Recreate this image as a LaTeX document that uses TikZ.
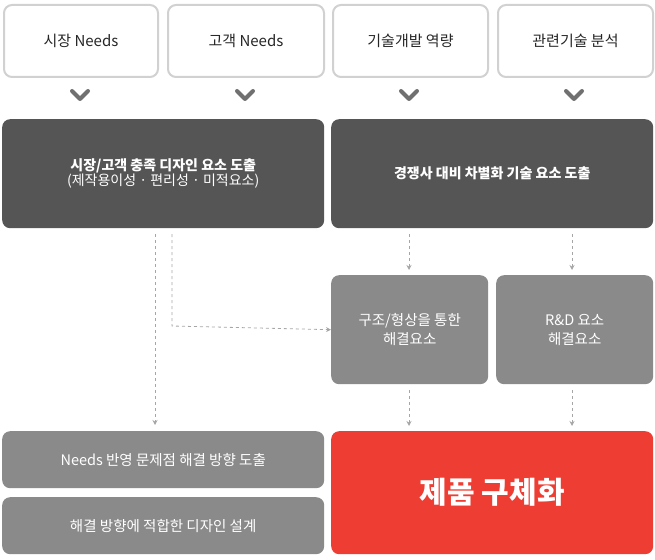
\documentclass[tikz,border=0pt]{standalone}
\usepackage{fontspec}
\setmainfont{Noto Sans CJK KR}
\usetikzlibrary{arrows.meta}
\definecolor{dark}{HTML}{555555}
\definecolor{mid}{HTML}{8A8A8A}
\definecolor{redb}{HTML}{EE3D33}
\definecolor{chev}{HTML}{707070}
\begin{document}
\begin{tikzpicture}[x=1pt,y=-1pt,
 box/.style={rounded corners=8pt,inner sep=0pt,align=center,anchor=north west},
 top/.style={box,draw=black!18,line width=2pt,fill=white,text=black!85,font=\fontsize{15}{18}\selectfont},
 dk/.style={box,fill=dark,text=white,font=\bfseries\fontsize{14}{18}\selectfont},
 md/.style={box,fill=mid,text=white,font=\fontsize{14.5}{19}\selectfont},
 dsh/.style={draw=black!35,dash pattern=on 3pt off 3pt,line width=0.8pt,-{Stealth[length=5pt,width=5pt]}},
 chv/.style={draw=chev,line width=4pt,line cap=round,line join=round}]
\useasboundingbox (0,0) rectangle (655,559);
\node[top,minimum width=154,minimum height=72] (t1) at (3,4) {시장 Needs};
\node[top,minimum width=156,minimum height=72] (t2) at (167,4) {고객 Needs};
\node[top,minimum width=155,minimum height=72] (t3) at (332,4) {기술개발 역량};
\node[top,minimum width=155,minimum height=72] (t4) at (497,4) {관련기술 분석};
\foreach \x in {80,245,409,574}{\draw[chv] (\x-8,91) -- (\x,99) -- (\x+8,91);}
\node[dk,minimum width=322,minimum height=109] (d1) at (2,119) {시장/고객 충족 디자인 요소 도출\\[-3pt]{\mdseries(제작용이성 · 편리성 · 미적요소)}};
\node[dk,minimum width=322,minimum height=109] (d2) at (331,119) {경쟁사 대비 차별화 기술 요소 도출};
\node[md,minimum width=157,minimum height=109] (g1) at (331,275) {구조/형상을 통한\\해결요소};
\node[md,minimum width=157,minimum height=109] (g2) at (496,275) {R\&D 요소\\해결요소};
\node[md,minimum width=322,minimum height=57] (b1) at (2,431) {Needs 반영 문제점 해결 방향 도출};
\node[md,minimum width=322,minimum height=57] (b2) at (2,497) {해결 방향에 적합한 디자인 설계};
\node[box,fill=redb,text=white,font=\bfseries\fontsize{30}{34}\selectfont,minimum width=322,minimum height=123] (r) at (331,431) {제품 구체화};
\coordinate (a1) at (155,234);
\draw[dsh] (a1) -- (155,425);
\coordinate (a2) at (172,234);
\draw[dsh] (a2) -- (172,326) -- (g1.west);
\draw[dsh] (409,234) -- (409,270);
\draw[dsh] (572,234) -- (572,270);
\draw[dsh] (409,390) -- (409,426);
\draw[dsh] (572,390) -- (572,426);
\end{tikzpicture}
\end{document}
